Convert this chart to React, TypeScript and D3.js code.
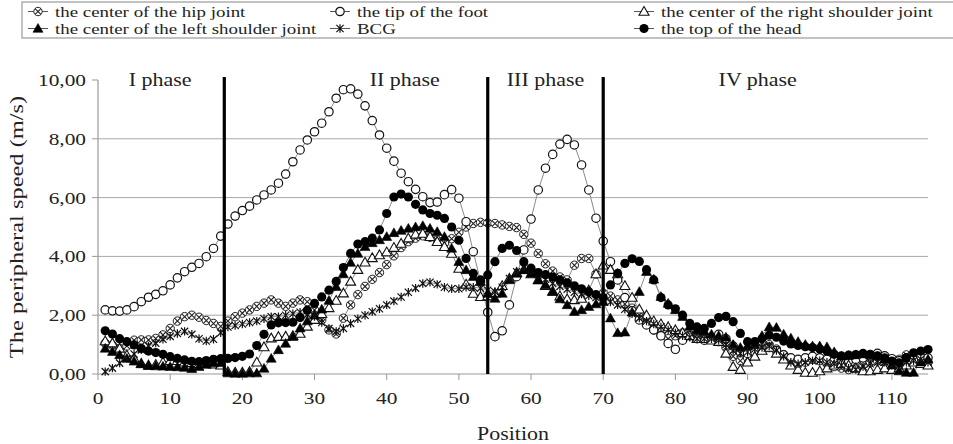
import React from 'react';
import * as d3 from 'd3';

// position index on the x axis
const positions = d3.range(1, 116);

const hipJoint = [
  1.05, 0.98, 0.88, 0.95, 1.15, 1.16, 1.16, 1.21, 1.33, 1.55,
  1.80, 1.95, 2.00, 1.93, 1.82, 1.72, 1.62, 1.80, 1.95, 2.07,
  2.18, 2.30, 2.41, 2.52, 2.41, 2.30, 2.41, 2.52, 2.46, 2.18,
  1.84, 1.50, 1.36, 1.90, 2.35, 2.70, 2.98, 3.22, 3.45, 3.72,
  4.02, 4.30, 4.50, 4.62, 4.70, 4.65, 4.55, 4.45, 4.60, 4.82,
  5.00, 5.12, 5.16, 5.14, 5.12, 5.07, 5.02, 4.98, 4.75, 4.45,
  4.10, 3.75, 3.50, 3.30, 3.20, 3.70, 3.93, 3.93, 3.40, 2.75,
  2.65, 2.52, 2.38, 2.24, 2.00, 1.70, 1.50, 1.32, 1.20, 1.30,
  1.40, 1.35, 1.25, 1.20, 1.20, 1.10, 0.90, 0.60, 0.45, 0.55,
  0.75, 0.90, 1.00, 0.85, 0.65, 0.45, 0.35, 0.40, 0.50, 0.45,
  0.35, 0.25, 0.20, 0.15, 0.20, 0.30, 0.40, 0.45, 0.40, 0.35,
  0.50, 0.65, 0.55, 0.45, 0.40,
];

const tipOfFoot = [
  2.18, 2.15, 2.14, 2.18, 2.29, 2.46, 2.61, 2.71, 2.83, 3.03,
  3.27, 3.48, 3.63, 3.76, 3.99, 4.27, 4.69, 5.10, 5.37, 5.56,
  5.71, 5.92, 6.09, 6.26, 6.49, 6.80, 7.22, 7.62, 7.96, 8.24,
  8.53, 8.92, 9.38, 9.67, 9.70, 9.52, 9.12, 8.62, 8.13, 7.68,
  7.24, 6.83, 6.54, 6.28, 6.03, 5.83, 5.85, 6.10, 6.27, 5.98,
  5.18, 4.16, 3.15, 2.10, 1.27, 1.47, 2.35, 3.31, 4.22, 5.27,
  6.26, 7.00, 7.47, 7.82, 7.98, 7.79, 7.11, 6.26, 5.30, 4.52,
  3.82, 3.20, 2.60, 2.15, 1.84, 1.67, 1.50, 1.30, 1.04, 0.84,
  1.15, 1.30, 1.20, 1.15, 1.20, 1.35, 1.20, 0.95, 0.75, 0.70,
  0.75, 0.85, 0.90, 0.80, 0.65, 0.55, 0.50, 0.55, 0.60, 0.55,
  0.50, 0.45, 0.40, 0.45, 0.50, 0.55, 0.62, 0.70, 0.62, 0.52,
  0.45, 0.55, 0.50, 0.60, 0.55,
];

const rightShoulder = [
  1.12, 1.05, 0.87, 0.64, 0.53, 0.36, 0.30, 0.32, 0.40, 0.45,
  0.45, 0.40, 0.38, 0.35, 0.35, 0.33, 0.30, 0.08, 0.06, 0.06,
  0.08, 0.40, 0.92, 1.22, 1.27, 1.28, 1.30, 1.38, 1.62, 1.85,
  2.05, 2.25, 2.50, 2.75, 3.15, 3.55, 3.80, 3.95, 4.05, 4.15,
  4.30, 4.44, 4.62, 4.75, 4.78, 4.67, 4.50, 4.33, 4.10, 3.59,
  3.05, 2.74, 2.63, 2.65, 2.75, 3.00, 3.25, 3.45, 3.55, 3.40,
  3.20, 3.00, 2.82, 2.65, 2.55, 2.52, 2.57, 2.85, 3.40, 3.70,
  3.55, 3.40, 3.00, 2.60, 2.20, 2.00, 1.80, 1.70, 1.60, 1.50,
  1.40, 1.30, 1.20, 1.20, 1.15, 1.10, 0.70, 0.25, 0.15, 0.40,
  0.60, 0.80, 0.90, 0.70, 0.50, 0.30, 0.15, 0.05, 0.05, 0.10,
  0.20, 0.30, 0.35, 0.30, 0.20, 0.10, 0.10, 0.15, 0.20, 0.15,
  0.20, 0.30, 0.40, 0.35, 0.30,
];

const leftShoulder = [
  0.87, 0.76, 0.65, 0.53, 0.43, 0.34, 0.28, 0.27, 0.26, 0.25,
  0.24, 0.22, 0.18, 0.25, 0.32, 0.37, 0.38, 0.03, 0.02, 0.02,
  0.03, 0.03, 0.19, 0.53, 0.82, 1.04, 1.27, 1.56, 1.80, 2.00,
  2.20, 2.50, 2.97, 3.40, 3.79, 4.10, 4.33, 4.46, 4.56, 4.67,
  4.80, 4.88, 4.95, 5.00, 5.04, 4.95, 4.84, 4.67, 4.27, 3.82,
  3.54, 3.31, 3.14, 2.74, 2.57, 2.74, 3.20, 3.42, 3.54, 3.42,
  3.20, 3.03, 2.80, 2.55, 2.35, 2.12, 2.18, 2.29, 2.38, 2.46,
  1.90, 1.40, 1.42, 2.10, 2.80, 3.48, 3.22, 2.63, 2.40, 2.18,
  1.95, 1.62, 1.50, 1.45, 1.35, 1.30, 1.25, 1.00, 0.90, 0.95,
  1.00, 1.30, 1.60, 1.58, 1.35, 1.22, 1.10, 1.00, 0.95, 0.95,
  0.92, 0.75, 0.60, 0.62, 0.65, 0.68, 0.65, 0.60, 0.50, 0.30,
  0.10, 0.05, 0.05, 0.40, 0.50,
];

const bcg = [
  0.08, 0.20, 0.37, 0.52, 0.68, 0.82, 0.95, 1.05, 1.18, 1.28,
  1.38, 1.45, 1.35, 1.20, 1.12, 1.18, 1.40, 1.60, 1.65, 1.70,
  1.75, 1.80, 1.88, 1.95, 1.95, 2.00, 2.05, 2.10, 2.02, 1.95,
  1.75, 1.55, 1.45, 1.55, 1.72, 1.88, 2.00, 2.12, 2.22, 2.35,
  2.48, 2.62, 2.78, 2.92, 3.08, 3.12, 3.05, 2.95, 2.90, 2.90,
  2.95, 2.95, 2.92, 2.85, 2.80, 2.95, 3.25, 3.48, 3.62, 3.52,
  3.38, 3.22, 3.08, 2.98, 2.88, 2.78, 2.72, 2.66, 2.60, 2.55,
  2.45, 2.35, 2.20, 2.05, 1.90, 1.80, 1.70, 1.60, 1.50, 1.40,
  1.30, 1.25, 1.20, 1.20, 1.20, 1.15, 1.00, 0.80, 0.70, 0.75,
  0.85, 0.90, 0.95, 0.80, 0.60, 0.40, 0.35, 0.40, 0.45, 0.45,
  0.40, 0.35, 0.30, 0.20, 0.15, 0.25, 0.35, 0.40, 0.40, 0.30,
  0.30, 0.40, 0.45, 0.50, 0.40,
];

const topOfHead = [
  1.47, 1.36, 1.20, 1.10, 0.99, 0.87, 0.78, 0.73, 0.67, 0.59,
  0.53, 0.48, 0.43, 0.42, 0.46, 0.50, 0.52, 0.53, 0.56, 0.60,
  0.68, 0.97, 1.35, 1.67, 1.74, 1.75, 1.76, 1.92, 2.17, 2.40,
  2.62, 2.85, 3.15, 3.62, 4.10, 4.42, 4.50, 4.62, 4.90, 5.46,
  6.02, 6.12, 6.02, 5.77, 5.58, 5.46, 5.40, 5.29, 5.00, 4.55,
  3.93, 3.42, 3.20, 3.37, 3.82, 4.27, 4.38, 4.20, 3.82, 3.60,
  3.45, 3.38, 3.30, 3.20, 3.10, 3.00, 2.90, 2.80, 2.70, 2.60,
  3.03, 3.42, 3.76, 3.92, 3.83, 3.55, 3.20, 2.60, 2.35, 2.22,
  2.00, 1.72, 1.60, 1.55, 1.72, 1.92, 1.96, 1.78, 1.38, 1.10,
  1.10, 1.20, 1.32, 1.25, 1.12, 1.02, 0.97, 0.93, 0.90, 0.85,
  0.78, 0.67, 0.62, 0.64, 0.66, 0.70, 0.67, 0.62, 0.55, 0.44,
  0.38, 0.55, 0.72, 0.78, 0.83,
];

const yTicks = [0, 2, 4, 6, 8, 10];
const xTicks = [0, 10, 20, 30, 40, 50, 60, 70, 80, 90, 100, 110];
const phaseBounds = [17.5, 54, 70];
const phaseNames = ['I phase', 'II phase', 'III phase', 'IV phase'];
const phaseCenters = [8.6, 42.5, 62, 91.4];

const series = [
  { name: 'the center of the hip joint', values: hipJoint, marker: 'xcircle' },
  { name: 'the tip of the foot', values: tipOfFoot, marker: 'ocircle' },
  { name: 'the center of the right shoulder joint', values: rightShoulder, marker: 'otri' },
  { name: 'the center of the left shoulder joint', values: leftShoulder, marker: 'ftri' },
  { name: 'BCG', values: bcg, marker: 'star' },
  { name: 'the top of the head', values: topOfHead, marker: 'fcircle' },
];

const FONT = "'Liberation Serif', 'Times New Roman', serif";
const margin = { left: 98, right: 25, top: 80, bottom: 70 };
const W = 953;
const H = 444;

// stretched serif text, the source picture is wider than tall
const SText = ({ x, y, anchor = 'start', size = 17, sx = 1.22, children, rotate = 0 }: any) => (
  <g transform={`translate(${x},${y}) rotate(${rotate}) scale(${sx},1)`}>
    <text x={0} y={0} textAnchor={anchor} fontFamily={FONT} fontSize={size} fill="#222">
      {children}
    </text>
  </g>
);

const Marker = ({ kind, x, y }: any) => {
  const r = 4.2;
  if (kind === 'ocircle') {
    return <circle cx={x} cy={y} r={r} fill="#fff" stroke="#111" strokeWidth={1.2} />;
  }
  if (kind === 'fcircle') {
    return <circle cx={x} cy={y} r={4.6} fill="#000" />;
  }
  if (kind === 'xcircle') {
    const d = 2.9;
    return (
      <g>
        <circle cx={x} cy={y} r={r} fill="#fff" stroke="#222" strokeWidth={1} />
        <path d={`M${x - d},${y - d}L${x + d},${y + d}M${x - d},${y + d}L${x + d},${y - d}`} stroke="#222" strokeWidth={1.1} />
      </g>
    );
  }
  if (kind === 'otri' || kind === 'ftri') {
    const s = 5;
    const p = `M${x},${y - s}L${x + s},${y + s * 0.75}L${x - s},${y + s * 0.75}Z`;
    return kind === 'otri'
      ? <path d={p} fill="#fff" stroke="#111" strokeWidth={1.1} />
      : <path d={p} fill="#000" stroke="#000" strokeWidth={0.6} />;
  }
  // BCG asterisk
  const d = 3.6;
  return (
    <path
      d={`M${x - d},${y - d}L${x + d},${y + d}M${x - d},${y + d}L${x + d},${y - d}M${x},${y - d - 0.6}L${x},${y + d + 0.6}`}
      stroke="#111"
      strokeWidth={1.2}
      fill="none"
    />
  );
};

export default function App() {
  const x = d3.scaleLinear().domain([0, 115]).range([margin.left, W - margin.right]);
  const y = d3.scaleLinear().domain([0, 10]).range([H - margin.bottom, margin.top]);
  const line = d3.line<number>().x((_, i) => x(positions[i])).y((v) => y(v));
  const fmt = (v: number) => v.toFixed(2).replace('.', ',');

  const legendCols = [38, 340, 644];
  const legendRows = [11.5, 28.5];

  return (
    <svg width={W} height={H} style={{ position: 'absolute', left: 0, top: 0, background: '#fff' }}>
      <rect width={W} height={H} fill="#fff" />

      {/* gridlines */}
      {yTicks.filter((t) => t > 0 && t < 10).map((t) => (
        <line key={t} x1={x(0)} x2={x(115)} y1={y(t)} y2={y(t)} stroke="#a8a8a8" strokeWidth={1} />
      ))}

      {/* axes */}
      <line x1={x(0)} x2={x(0)} y1={y(10)} y2={y(0)} stroke="#999" strokeWidth={1.2} />
      <line x1={x(0)} x2={x(115)} y1={y(0)} y2={y(0)} stroke="#999" strokeWidth={1.2} />
      {yTicks.map((t) => (
        <g key={t}>
          <line x1={x(0) - 6} x2={x(0)} y1={y(t)} y2={y(t)} stroke="#999" />
          <SText x={x(0) - 12} y={y(t) + 6} anchor="end" size={17.5}>{fmt(t)}</SText>
        </g>
      ))}
      {xTicks.map((t) => (
        <g key={t}>
          <line x1={x(t)} x2={x(t)} y1={y(0)} y2={y(0) + 6} stroke="#999" />
          <SText x={x(t)} y={y(0) + 30} anchor="middle" size={17.5}>{t}</SText>
        </g>
      ))}

      <SText x={(x(0) + x(115)) / 2} y={440} anchor="middle" size={18}>Position</SText>
      <SText x={23} y={(y(0) + y(10)) / 2} anchor="middle" size={18.5} sx={1.32} rotate={-90}>The peripheral speed (m/s)</SText>

      {/* series */}
      {series.map((s) => (
        <path key={s.name + 'l'} d={line(s.values) || ''} fill="none" stroke="#8a8a8a" strokeWidth={1} />
      ))}
      {series.map((s) => (
        <g key={s.name}>
          {s.values.map((v, i) => (
            <Marker key={i} kind={s.marker} x={x(positions[i])} y={y(v)} />
          ))}
        </g>
      ))}

      {/* phase boundaries */}
      {phaseBounds.map((b) => (
        <line key={b} x1={x(b)} x2={x(b)} y1={y(10) - 3} y2={y(0)} stroke="#000" strokeWidth={3.2} />
      ))}
      {phaseNames.map((n, i) => (
        <SText key={n} x={x(phaseCenters[i])} y={y(10) + 6} anchor="middle" size={18}>{n}</SText>
      ))}

      {/* legend */}
      <rect x={22} y={2} width={W + 10} height={36} fill="#fff" stroke="#9a9a9a" strokeWidth={1.2} />
      {series.map((s, i) => {
        const cx = legendCols[i % 3];
        const cy = legendRows[Math.floor(i / 3)];
        return (
          <g key={s.name + 'lg'}>
            <line x1={cx - 10} x2={cx + 10} y1={cy} y2={cy} stroke="#555" strokeWidth={1} />
            <Marker kind={s.marker} x={cx} y={cy} />
            <SText x={cx + 17} y={cy + 5} size={15} sx={1.26}>{s.name}</SText>
          </g>
        );
      })}
    </svg>
  );
}
